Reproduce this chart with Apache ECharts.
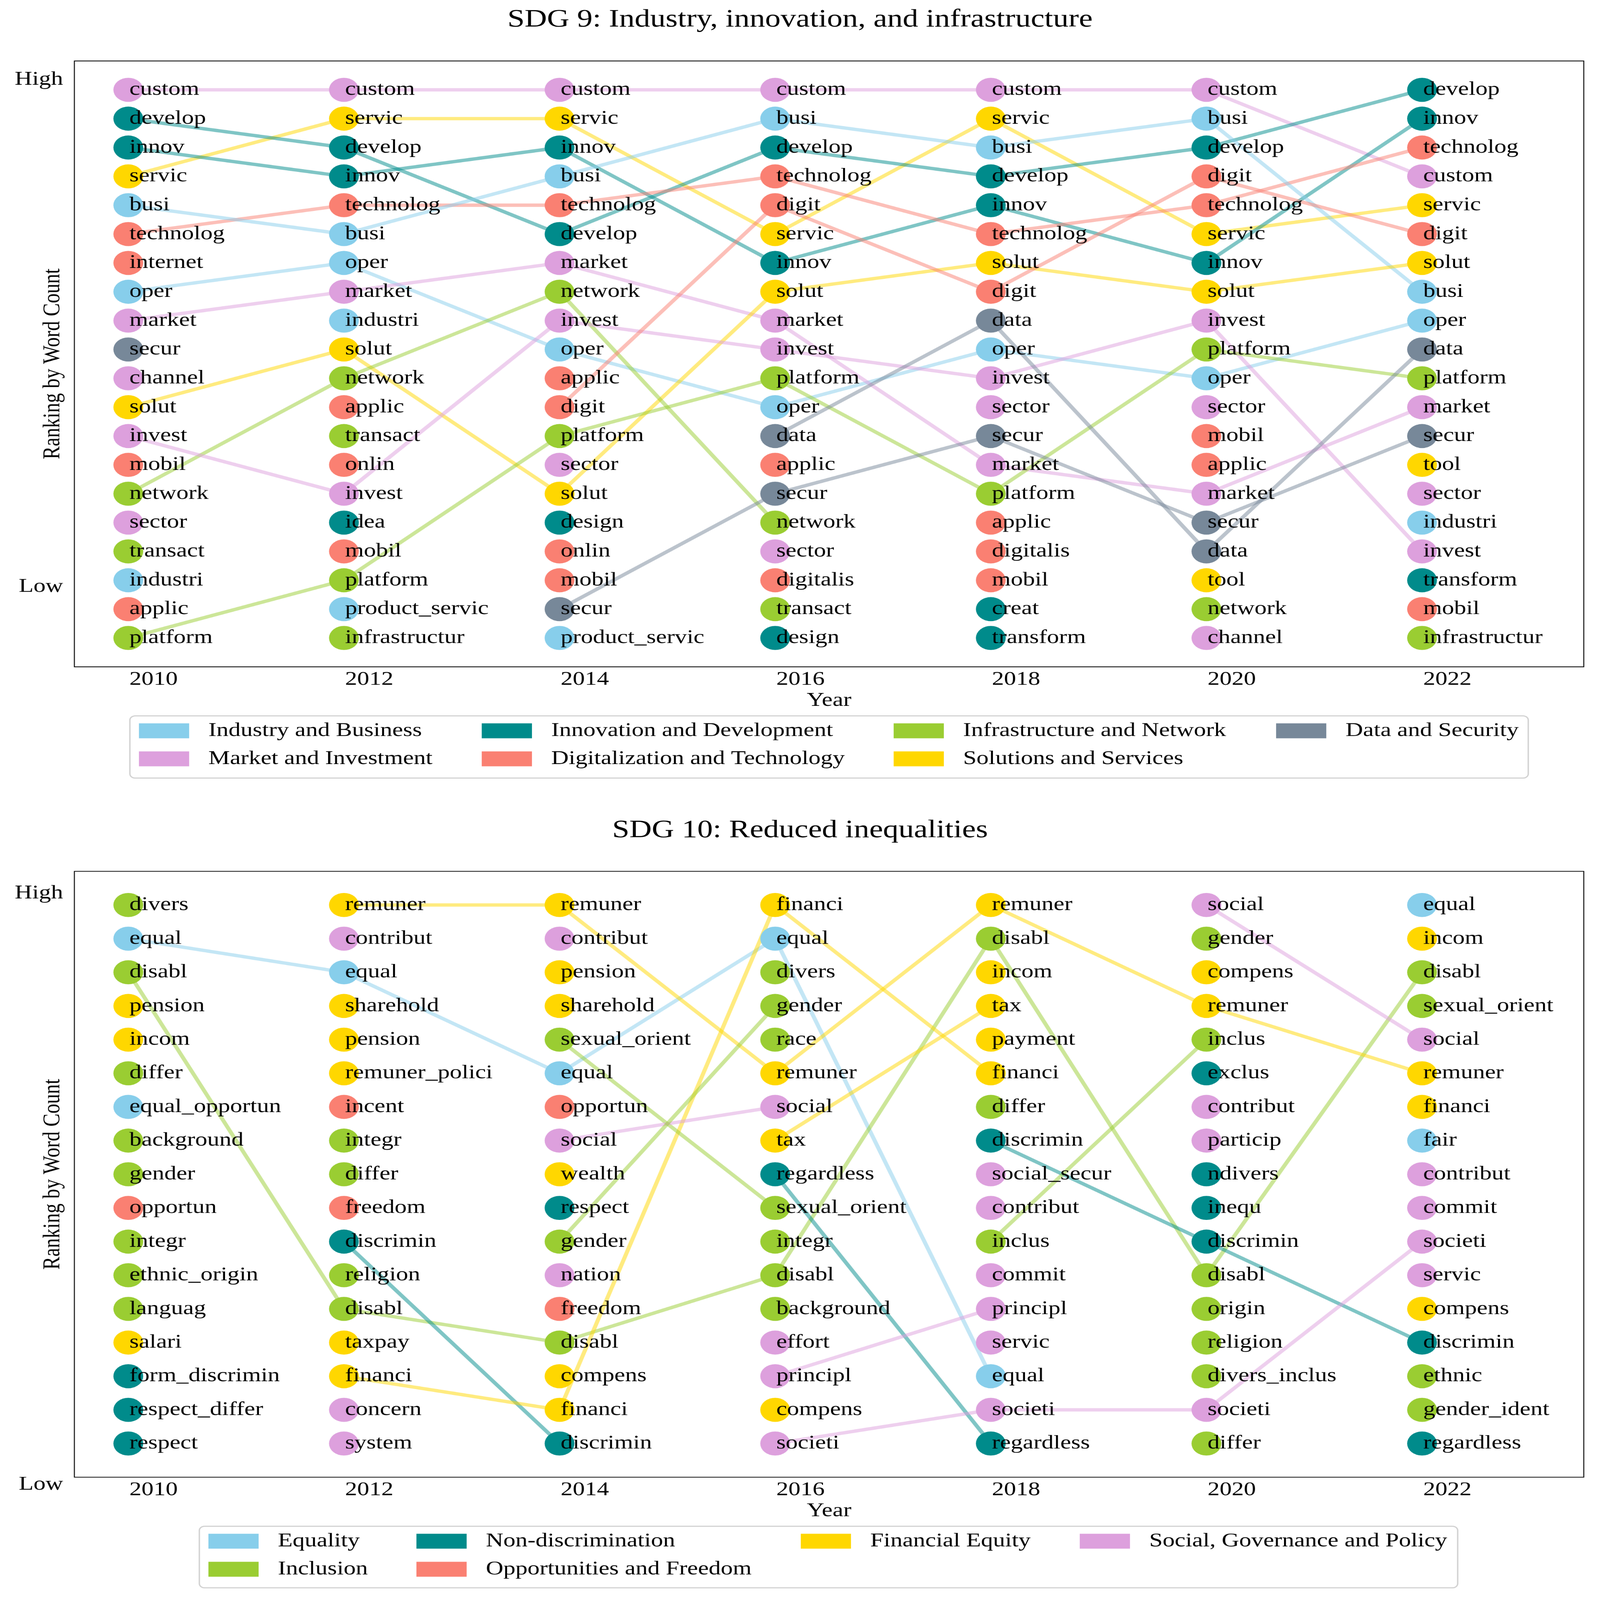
<!DOCTYPE html>
<html><head><meta charset="utf-8">
<script src="https://cdn.jsdelivr.net/npm/echarts@6/dist/echarts.min.js"></script>
<style>html,body{margin:0;padding:0;background:#fff;overflow:hidden}#c{width:4238px;height:5250px;transform-origin:0 0}</style>
</head><body><div id="c"></div>
<script>
// ---------------- DATA ----------------
const years = [2010, 2012, 2014, 2016, 2018, 2020, 2022];
const yTickLabels = ['High', 'Low'];
const yTickRanks = [-0.35, 17.22];

// SDG 9 – words ranked from highest to lowest word count, per year
const sdg9_2010 = ['custom','develop','innov','servic','busi','technolog','internet','oper','market','secur','channel','solut','invest','mobil','network','sector','transact','industri','applic','platform'];
const sdg9_2012 = ['custom','servic','develop','innov','technolog','busi','oper','market','industri','solut','network','applic','transact','onlin','invest','idea','mobil','platform','product_servic','infrastructur'];
const sdg9_2014 = ['custom','servic','innov','busi','technolog','develop','market','network','invest','oper','applic','digit','platform','sector','solut','design','onlin','mobil','secur','product_servic'];
const sdg9_2016 = ['custom','busi','develop','technolog','digit','servic','innov','solut','market','invest','platform','oper','data','applic','secur','network','sector','digitalis','transact','design'];
const sdg9_2018 = ['custom','servic','busi','develop','innov','technolog','solut','digit','data','oper','invest','sector','secur','market','platform','applic','digitalis','mobil','creat','transform'];
const sdg9_2020 = ['custom','busi','develop','digit','technolog','servic','innov','solut','invest','platform','oper','sector','mobil','applic','market','secur','data','tool','network','channel'];
const sdg9_2022 = ['develop','innov','technolog','custom','servic','digit','solut','busi','oper','data','platform','market','secur','tool','sector','industri','invest','transform','mobil','infrastructur'];

const sdg9Categories = ['Industry and Business','Market and Investment','Innovation and Development','Digitalization and Technology','Infrastructure and Network','Solutions and Services','Data and Security'];
const sdg9_industryBusiness = ['busi','oper','industri','product_servic'];
const sdg9_marketInvestment = ['custom','market','channel','invest','sector'];
const sdg9_innovationDevelopment = ['develop','innov','idea','design','creat','transform'];
const sdg9_digitalTechnology = ['technolog','internet','mobil','applic','onlin','digit','digitalis'];
const sdg9_infraNetwork = ['network','transact','platform','infrastructur'];
const sdg9_solutionsServices = ['servic','solut','tool'];
const sdg9_dataSecurity = ['secur','data'];
const sdg9Tracked = ['custom','servic','develop','innov','technolog','busi','oper','market','solut','network','invest','platform','digit','data','secur'];

// SDG 10
const sdg10_2010 = ['divers','equal','disabl','pension','incom','differ','equal_opportun','background','gender','opportun','integr','ethnic_origin','languag','salari','form_discrimin','respect_differ','respect'];
const sdg10_2012 = ['remuner','contribut','equal','sharehold','pension','remuner_polici','incent','integr','differ','freedom','discrimin','religion','disabl','taxpay','financi','concern','system'];
const sdg10_2014 = ['remuner','contribut','pension','sharehold','sexual_orient','equal','opportun','social','wealth','respect','gender','nation','freedom','disabl','compens','financi','discrimin'];
const sdg10_2016 = ['financi','equal','divers','gender','race','remuner','social','tax','regardless','sexual_orient','integr','disabl','background','effort','principl','compens','societi'];
const sdg10_2018 = ['remuner','disabl','incom','tax','payment','financi','differ','discrimin','social_secur','contribut','inclus','commit','principl','servic','equal','societi','regardless'];
const sdg10_2020 = ['social','gender','compens','remuner','inclus','exclus','contribut','particip','ndivers','inequ','discrimin','disabl','origin','religion','divers_inclus','societi','differ'];
const sdg10_2022 = ['equal','incom','disabl','sexual_orient','social','remuner','financi','fair','contribut','commit','societi','servic','compens','discrimin','ethnic','gender_ident','regardless'];

const sdg10Categories = ['Equality','Inclusion','Non-discrimination','Opportunities and Freedom','Financial Equity','Social, Governance and Policy'];
const sdg10_equality = ['equal','equal_opportun','fair'];
const sdg10_inclusion = ['divers','disabl','differ','background','gender','integr','ethnic_origin','languag','religion','sexual_orient','race','inclus','origin','divers_inclus','ethnic','gender_ident'];
const sdg10_nonDiscrimination = ['form_discrimin','respect_differ','respect','discrimin','regardless','exclus','ndivers','inequ'];
const sdg10_opportunities = ['opportun','incent','freedom'];
const sdg10_financial = ['pension','incom','salari','remuner','sharehold','remuner_polici','taxpay','financi','wealth','compens','tax','payment'];
const sdg10_social = ['contribut','concern','system','social','nation','effort','principl','societi','social_secur','commit','servic','particip'];
const sdg10Tracked = ['equal','disabl','remuner','discrimin','financi','sexual_orient','social','gender','tax','regardless','principl','societi','inclus'];

// ---------------- STYLE ----------------
const FONT = "'Liberation Serif','Times New Roman',serif";
const FS = 64;
const sdg9Colors = ['#87CEEB','#DDA0DD','#008B8B','#FA8072','#9ACD32','#FFD700','#778899'];
const sdg10Colors = ['#87CEEB','#9ACD32','#008B8B','#FA8072','#FFD700','#DDA0DD'];

const PAGE_W = 4238, PAGE_H = 5250;
const PLOT_L = 197, PLOT_W = 3998, PLOT_H = 1988;
const charts = [
  { title: 'SDG 9: Industry, innovation, and infrastructure', titleTop: 24, top: 200,
    lists: [sdg9_2010, sdg9_2012, sdg9_2014, sdg9_2016, sdg9_2018, sdg9_2020, sdg9_2022],
    cats: sdg9Categories, colors: sdg9Colors,
    catWords: [sdg9_industryBusiness, sdg9_marketInvestment, sdg9_innovationDevelopment, sdg9_digitalTechnology, sdg9_infraNetwork, sdg9_solutionsServices, sdg9_dataSecurity],
    tracked: sdg9Tracked,
    legendCols: [[0,1],[2,3],[4,5],[6]], legendLeft: [368,1276,2367,3380], legendTop: 2366, box: [344,2349,3704,204] },
  { title: 'SDG 10: Reduced inequalities', titleTop: 2684, top: 2859,
    lists: [sdg10_2010, sdg10_2012, sdg10_2014, sdg10_2016, sdg10_2018, sdg10_2020, sdg10_2022],
    cats: sdg10Categories, colors: sdg10Colors,
    catWords: [sdg10_equality, sdg10_inclusion, sdg10_nonDiscrimination, sdg10_opportunities, sdg10_financial, sdg10_social],
    tracked: sdg10Tracked,
    legendCols: [[0,1],[2,3],[4],[5]], legendLeft: [552,1103,2121,2860], legendTop: 5025, box: [528,5008,3333,202] }
];

const option = { animation: false, backgroundColor: '#fff', title: [], grid: [], xAxis: [], yAxis: [], series: [], legend: [], graphic: [] };

charts.forEach((c, ci) => {
  const n = c.lists[0].length;
  const ymax = n; // ranks 0..n-1, padded by one row on each side
  option.title.push({ text: c.title, left: 'center', top: c.titleTop, padding: 0,
    textStyle: { fontFamily: FONT, fontSize: 82, fontWeight: 'normal', color: '#000', lineHeight: 82 } });
  option.grid.push({ left: PLOT_L, top: c.top, width: PLOT_W, height: PLOT_H, show: true, borderColor: '#000', borderWidth: 2.5, backgroundColor: 'rgba(0,0,0,0)' });
  option.xAxis.push({ type: 'value', gridIndex: ci, min: 2009.5, max: 2023.5,
    axisLine: { show: false }, axisTick: { show: false }, splitLine: { show: false },
    axisLabel: { customValues: years, align: 'left', padding: [0,0,0,3], margin: 10, fontFamily: FONT, fontSize: FS, lineHeight: FS, color: '#000', formatter: v => String(v) },
    name: 'Year', nameLocation: 'middle', nameGap: 79,
    nameTextStyle: { fontFamily: FONT, fontSize: FS, lineHeight: FS, color: '#000' } });
  option.yAxis.push({ type: 'value', gridIndex: ci, inverse: true, min: -1, max: ymax,
    axisLine: { show: false }, axisTick: { show: false }, splitLine: { show: false }, axisLabel: { show: false },
    name: 'Ranking by Word Count', nameLocation: 'middle', nameGap: 25,
    nameTextStyle: { fontFamily: FONT, fontSize: FS, lineHeight: FS, color: '#000' } });

  // one scatter series per category (dots + word labels)
  c.cats.forEach((cat, k) => {
    const data = [];
    c.lists.forEach((lst, yi) => lst.forEach((w, r) => {
      if (c.catWords[k].includes(w)) data.push({ name: w, value: [years[yi], r] });
    }));
    option.series.push({ type: 'scatter', name: cat, xAxisIndex: ci, yAxisIndex: ci, z: 3, silent: true,
      symbol: 'circle', symbolSize: 79, itemStyle: { color: c.colors[k], opacity: 1 },
      emphasis: { disabled: true },
      label: { show: true, position: 'inside', align: 'left', verticalAlign: 'middle', offset: [3, 0],
        formatter: p => p.name, color: '#000', fontFamily: FONT, fontSize: FS, textBorderWidth: 0 },
      data });
  });
  // rank-trajectory lines for tracked words
  c.tracked.forEach(w => {
    const k = c.catWords.findIndex(a => a.includes(w));
    const data = c.lists.map((lst, yi) => { const r = lst.indexOf(w); return r >= 0 ? [years[yi], r] : [years[yi], '-']; });
    option.series.push({ type: 'line', name: 'line_' + w, xAxisIndex: ci, yAxisIndex: ci, z: 2, silent: true,
      showSymbol: false, symbol: 'none', connectNulls: false, emphasis: { disabled: true },
      lineStyle: { width: 11, color: c.colors[k], opacity: 0.5, cap: 'butt' }, data });
  });
  // legends (one per column, matplotlib-style column-major order)
  c.legendCols.forEach((col, li) => {
    option.legend.push({ orient: 'vertical', left: c.legendLeft[li], top: c.legendTop, padding: 0,
      itemWidth: 133, itemHeight: 49, itemGap: 28, icon: 'rect', selectedMode: false,
      textStyle: { fontFamily: FONT, fontSize: FS, lineHeight: FS, color: '#000', padding: [0,0,0,46] },
      data: col.map(i => c.cats[i]) });
  });
  option.graphic.push({ type: 'rect', z: 0, shape: { x: c.box[0], y: c.box[1], width: c.box[2], height: c.box[3], r: 14 },
    style: { fill: '#fff', stroke: '#d0d0d0', lineWidth: 3.5 } });
});

// helper grids carrying the High / Low labels
charts.forEach((c, ci) => {
  const n = c.lists[0].length;
  const span = n + 1;
  const gi = charts.length + ci;
  option.grid.push({ left: PLOT_L, top: c.top, width: PLOT_W, height: PLOT_H * (span + 0.5) / span, show: false });
  option.xAxis.push({ type: 'value', gridIndex: gi, min: 0, max: 1, show: false });
  option.yAxis.push({ type: 'value', gridIndex: gi, inverse: true, min: -1, max: n + 0.5,
    axisLine: { show: false }, axisTick: { show: false }, splitLine: { show: false },
    axisLabel: { customValues: yTickRanks, margin: 30, fontFamily: FONT, fontSize: FS, lineHeight: FS, color: '#000',
      formatter: v => yTickLabels[yTickRanks.indexOf(v)] } });
});

const el = document.getElementById('c');
// if the viewport is smaller than the intended page, scale the whole figure to fill it
const sx = Math.min(1, window.innerWidth / PAGE_W), sy = Math.min(1, window.innerHeight / PAGE_H);
if (sx < 1 || sy < 1) el.style.transform = 'scale(' + sx + ',' + sy + ')';
const chart = echarts.init(el, null, { renderer: 'canvas' });
chart.setOption(option);
</script></body></html>
